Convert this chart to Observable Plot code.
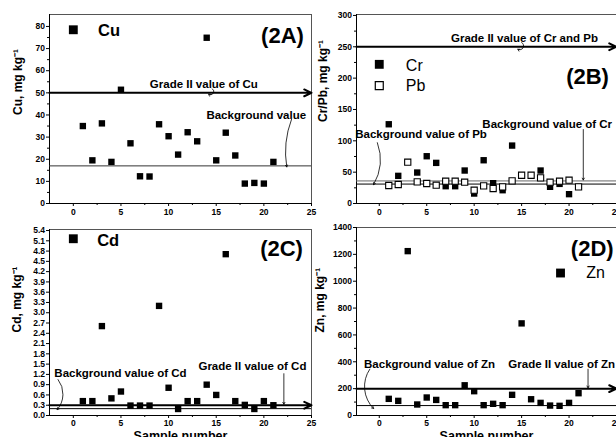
<!DOCTYPE html>
<html><head><meta charset="utf-8">
<script src="https://cdn.jsdelivr.net/npm/d3@7"></script>
<script src="https://cdn.jsdelivr.net/npm/@observablehq/plot@0.6"></script>
<style>
body{margin:0;width:616px;height:437px;overflow:hidden;position:relative;background:#fff;font-family:"Liberation Sans",Arial,sans-serif}
.panel{position:absolute}
.panel svg{overflow:visible}
</style></head><body>
<div class="panel" id="pA" style="left:0;top:0;width:311px"></div>
<div class="panel" id="pB" style="left:305px;top:0;width:311px"></div>
<div class="panel" id="pC" style="left:0;top:215px;width:311px"></div>
<div class="panel" id="pD" style="left:305px;top:215px;width:311px"></div>
<script>
// ---- data ----
const sampleNo = [1,2,3,4,5,6,7,8,9,10,11,12,13,14,15,16,17,18,19,20,21];
const cu = [35,19.5,36.2,18.8,51.4,27.2,12.3,12.2,35.8,30.4,22.1,32.2,28.1,74.9,19.5,32.0,21.7,9.0,9.3,9.0,18.8];
const crSampleNo = [1,2,4,5,6,7,8,9,10,11,12,13,14,17,18,19,20];
const cr = [126.4,44.1,49.4,75.4,64.8,27.6,27.6,52.6,15.9,69.0,32.4,21.2,92.4,52.6,26.6,31.3,14.9];
const pb = [28.7,30.3,65.9,34.5,31.9,29.2,35.6,35.6,34.0,21.2,28.1,23.9,26.6,36.1,45.1,45.1,40.9,34.0,35.6,37.2,26.6];
const cd = [0.42,0.42,2.61,0.50,0.70,0.29,0.29,0.29,3.20,0.81,0.19,0.42,0.42,0.90,0.60,4.71,0.42,0.31,0.19,0.42,0.30];
const zn = [124,109,1224,82,134,116,77,77,225,181,77,87,77,154,686,121,94,74,72,94,166];

const cuGrade = 50, cuBackground = 17;
const crPbGrade = 250, crBackground = 36, pbBackground = 31;
const cdGrade = 0.3, cdBackground = 0.2;
const znGrade = 200, znBackground = 74;

const xTicks = [0,5,10,15,20,25];
const xMinorTicks = [2.5,7.5,12.5,17.5,22.5];
const cuTicks = [0,10,20,30,40,50,60,70,80];
const cuMinorTicks = [5,15,25,35,45,55,65,75];
const crPbTicks = [0,50,100,150,200,250,300];
const crPbMinorTicks = [25,75,125,175,225,275];
const cdTicks = [0,0.3,0.6,0.9,1.2,1.5,1.8,2.1,2.4,2.7,3.0,3.3,3.6,3.9,4.2,4.5,4.8,5.1,5.4];
const znTicks = [0,200,400,600,800,1000,1200,1400];
const znMinorTicks = [100,300,500,700,900,1100,1300];

const FONT = '"Liberation Sans", Arial, Helvetica, sans-serif';

function panel(o) {
  const blank = () => "";
  const marks = [
    Plot.frame({stroke: "#555"}),
    Plot.ruleY([o.yDomain[0]], {stroke: "black"}),
    Plot.ruleX([o.xDomain[0]], {stroke: "black"}),
    Plot.axisX({ticks: xTicks, tickSize: 3, tickPadding: o.xPad ?? 2, label: null}),
    Plot.axisX({ticks: xMinorTicks, tickSize: 2, tickFormat: blank, label: null}),
    Plot.axisY({ticks: o.yTicks, tickSize: 3, tickPadding: 1.5, tickFormat: o.yFormat, label: null}),
  ];
  if (o.yMinor) marks.push(Plot.axisY({ticks: o.yMinor, tickSize: 2, tickFormat: blank, label: null}));
  marks.push(Plot.text([o.yLabel], {frameAnchor: "left", rotate: -90, dx: o.labelDx, dy: o.labelDy, fontSize: 12, fontWeight: "bold"}));
  if (o.xLabel) marks.push(Plot.text([o.xLabel], {frameAnchor: "bottom", dy: 24, fontSize: 12.5, fontWeight: "bold"}));
  marks.push(...o.marks);
  const chart = Plot.plot({
    width: 311, height: o.height,
    marginTop: o.mt, marginBottom: o.mb, marginLeft: o.ml, marginRight: 0,
    style: {background: "transparent", fontFamily: FONT, fontSize: "8.5px", fontWeight: "bold", color: "black", overflow: "visible"},
    x: {domain: o.xDomain, label: null},
    y: {domain: o.yDomain, label: null},
    marks
  });
  document.getElementById(o.el).appendChild(chart);
}

const note = (t, x, y, opts = {}) => Plot.text([t], {x, y, lineAnchor: "bottom", fontSize: 11.5, fontWeight: "bold", ...opts});
const pointer = (x1, y1, x2, y2, bend) => Plot.arrow([0], {x1, y1, x2, y2, bend, headLength: 4, strokeWidth: 0.8, stroke: "black"});
const gradeLine = (x1, x2, y) => Plot.arrow([0], {x1, x2, y1: y, y2: y, strokeWidth: 2, headLength: 6, headAngle: 50, stroke: "black"});
const sq = {symbol: "square", r: 3.6, fill: "black"};

// ---- Panel 2A ----
panel({
  el: "pA", height: 220, mt: 14, mb: 17, ml: 49,
  xDomain: [-2.5, 25], yDomain: [0, 85.4],
  yTicks: cuTicks, yMinor: cuMinorTicks, yFormat: d3.format("d"),
  yLabel: "Cu, mg kg⁻¹", labelDx: -31, labelDy: 6,
  marks: [
    gradeLine(-2.5, 25, cuGrade),
    Plot.ruleY([cuBackground], {stroke: "#333", strokeWidth: 1}),
    Plot.dot(sampleNo, {x: sampleNo, y: cu, ...sq}),
    Plot.dot([0], {x: 0, y: 78.5, symbol: "square", r: 5, fill: "black"}),
    Plot.text(["Cu"], {x: 2.6, y: 78.2, textAnchor: "start", fontSize: 16.5, fontWeight: "bold"}),
    Plot.text(["(2A)"], {x: 24.2, y: 75.7, textAnchor: "end", fontSize: 22, fontWeight: "bold"}),
    note("Grade II value of Cu", 13.7, 52.3),
    pointer(14.6, 51.8, 14.2, 49.4, 120),
    note("Background value", 19.2, 38.4),
    pointer(22.9, 38, 22.4, 16.5, -15)
  ]
});

// ---- Panel 2B ----
panel({
  el: "pB", height: 220, mt: 14, mb: 17, ml: 51,
  xDomain: [-2.4, 25], yDomain: [0, 301.5],
  yTicks: crPbTicks, yMinor: crPbMinorTicks, yFormat: d3.format("d"),
  yLabel: "Cr/Pb, mg kg⁻¹", labelDx: -33, labelDy: 13,
  marks: [
    gradeLine(-2.4, 25, crPbGrade),
    Plot.ruleY([crBackground], {stroke: "#666", strokeWidth: 1}),
    Plot.ruleY([pbBackground], {stroke: "black", strokeWidth: 1}),
    Plot.dot(crSampleNo, {x: crSampleNo, y: cr, ...sq}),
    Plot.dot(sampleNo, {x: sampleNo, y: pb, symbol: "square", r: 3.5, fill: "white", stroke: "black", strokeWidth: 1.1}),
    Plot.dot([0], {x: 0, y: 222, symbol: "square", r: 5, fill: "black"}),
    Plot.dot([0], {x: 0, y: 188, symbol: "square", r: 4.5, fill: "white", stroke: "black", strokeWidth: 1.2}),
    Plot.text(["Cr"], {x: 2.8, y: 220, textAnchor: "start", fontSize: 16, fontWeight: "normal"}),
    Plot.text(["Pb"], {x: 2.8, y: 187, textAnchor: "start", fontSize: 16, fontWeight: "normal"}),
    Plot.text(["(2B)"], {x: 24.2, y: 202, textAnchor: "end", fontSize: 22, fontWeight: "bold"}),
    note("Grade II value of Cr and Pb", 15.3, 258),
    pointer(15.0, 257, 14.6, 246, 120),
    note("Background value of Cr", 17.7, 121),
    pointer(21.5, 118, 21.5, 37.5, 0),
    note("Background value of Pb", 4.4, 104),
    pointer(-0.2, 97, -0.6, 30, 25)
  ]
});

// ---- Panel 2C ----
panel({
  el: "pC", height: 235, mt: 14, mb: 35, ml: 49, xPad: 1,
  xDomain: [-2.5, 25], yDomain: [0, 5.43],
  yTicks: cdTicks, yFormat: d3.format(".1f"),
  yLabel: "Cd, mg kg⁻¹", labelDx: -32, labelDy: 10,
  xLabel: "Sample number",
  marks: [
    gradeLine(-2.5, 25, cdGrade),
    Plot.ruleY([cdBackground], {stroke: "black", strokeWidth: 1}),
    Plot.dot(sampleNo, {x: sampleNo, y: cd, ...sq}),
    Plot.dot([0], {x: 0, y: 5.16, symbol: "square", r: 5, fill: "black"}),
    Plot.text(["Cd"], {x: 2.5, y: 5.1, textAnchor: "start", fontSize: 16.5, fontWeight: "bold"}),
    Plot.text(["(2C)"], {x: 24.1, y: 4.87, textAnchor: "end", fontSize: 22, fontWeight: "bold"}),
    note("Grade II value of Cd", 18.8, 1.34),
    pointer(22.1, 1.22, 22.1, 0.33, 0),
    note("Background value of Cd", 4.95, 1.12),
    pointer(-1.6, 1.05, -1.7, 0.17, 40)
  ]
});

// ---- Panel 2D ----
panel({
  el: "pD", height: 235, mt: 12, mb: 35, ml: 51, xPad: 1,
  xDomain: [-2.4, 25], yDomain: [0, 1400],
  yTicks: znTicks, yMinor: znMinorTicks, yFormat: d3.format("d"),
  yLabel: "Zn, mg kg⁻¹", labelDx: -36, labelDy: 11,
  xLabel: "Sample number",
  marks: [
    gradeLine(-2.4, 25, znGrade),
    Plot.ruleY([znBackground], {stroke: "black", strokeWidth: 1}),
    Plot.dot(sampleNo, {x: sampleNo, y: zn, ...sq}),
    Plot.dot([0], {x: 19.1, y: 1061, symbol: "square", r: 5, fill: "black"}),
    Plot.text(["Zn"], {x: 21.8, y: 1063, textAnchor: "start", fontSize: 16, fontWeight: "normal"}),
    Plot.text(["(2D)"], {x: 24.7, y: 1240, textAnchor: "end", fontSize: 22, fontWeight: "bold"}),
    note("Background value of Zn", 5.3, 357),
    note("Grade II value of Zn", 13.6, 357, {textAnchor: "start"}),
    pointer(22, 345, 22, 206, 0),
    pointer(-1.0, 345, -0.6, 52, -40)
  ]
});
</script>
</body></html>
